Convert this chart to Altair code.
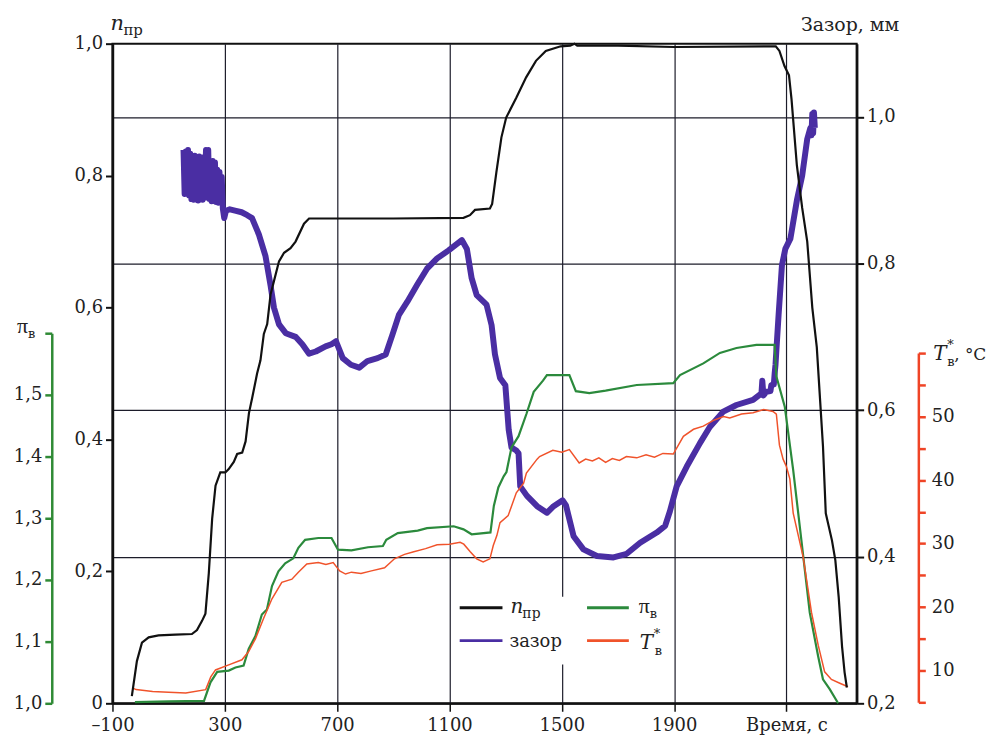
import altair as alt
import pandas as pd

# ---------------- data ----------------
n_t = [-31, -13, 5, 29, 64, 124, 183, 201, 219, 231, 243, 255, 267, 284, 302, 314, 332, 344, 362, 374,
       386, 398, 415, 427, 439, 451, 463, 475, 493, 511, 534, 552, 582, 600, 700, 900, 1150, 1173, 1191,
       1244, 1252, 1267, 1285, 1302, 1338, 1373, 1408, 1443, 1496, 1530, 1545, 1555, 1700, 1900, 2262,
       2275, 2293, 2309, 2318, 2337, 2356, 2374, 2392, 2408, 2419, 2430, 2440, 2462, 2474, 2486, 2498,
       2507, 2515]
n_v = [0.011, 0.064, 0.092, 0.100, 0.103, 0.104, 0.105, 0.111, 0.125, 0.136, 0.197, 0.28, 0.33, 0.35,
       0.35, 0.355, 0.366, 0.378, 0.38, 0.397, 0.44, 0.464, 0.50, 0.52, 0.56, 0.575, 0.62, 0.64, 0.67,
       0.683, 0.69, 0.70, 0.727, 0.735, 0.735, 0.735, 0.736, 0.74, 0.748, 0.75, 0.757, 0.805, 0.858, 0.888,
       0.918, 0.949, 0.974, 0.989, 0.996, 0.997, 1.0, 0.997, 0.997, 0.995, 0.996, 0.989, 0.966, 0.952,
       0.916, 0.816, 0.751, 0.70, 0.60, 0.54, 0.465, 0.39, 0.288, 0.247, 0.217, 0.161, 0.086, 0.047, 0.024]

gap_t = [153, 157, 161, 165, 169, 173, 177, 181, 185, 189, 193, 197, 201, 205, 209, 213, 217, 221, 225,
         229, 233, 237, 241, 245, 249, 253, 257, 261, 265, 269, 273, 277, 281, 285, 289, 293,
         298, 304, 318, 340, 360, 380, 397, 421, 445, 463, 475, 493, 517, 552, 576, 600, 624, 659, 680,
         696, 720, 749, 779, 808, 844, 873, 897, 920, 950, 985, 1020, 1056, 1097, 1144, 1162, 1179, 1197,
         1232, 1250, 1262, 1280, 1299, 1311, 1321, 1338, 1346, 1352, 1376, 1412, 1447, 1471, 1503, 1515,
         1524, 1542, 1577, 1625, 1684, 1731, 1779, 1838, 1868, 1885, 1909, 1945, 1992, 2027, 2075, 2122,
         2181, 2211, 2214, 2218, 2228, 2243, 2246, 2255, 2258, 2261, 2264, 2272, 2284, 2296, 2314, 2338,
         2356, 2374, 2385, 2389, 2392, 2395, 2398, 2401]
gap_v = [0.955, 0.895, 0.953, 0.898, 0.955, 0.893, 0.950, 0.888, 0.945, 0.887, 0.947, 0.889, 0.944,
         0.886, 0.946, 0.888, 0.944, 0.887, 0.945, 0.890, 0.955, 0.892, 0.955, 0.888, 0.940, 0.885,
         0.940, 0.886, 0.938, 0.884, 0.928, 0.883, 0.925, 0.884, 0.918, 0.875,
         0.862, 0.872, 0.874, 0.872, 0.870, 0.866, 0.862, 0.84, 0.81, 0.77, 0.74, 0.717, 0.705, 0.70,
         0.69, 0.677, 0.68, 0.687, 0.69, 0.694, 0.671, 0.662, 0.658, 0.667, 0.671, 0.676, 0.703, 0.73,
         0.748, 0.771, 0.793, 0.807, 0.818, 0.832, 0.82, 0.78, 0.757, 0.744, 0.716, 0.676, 0.644, 0.634,
         0.573, 0.549, 0.545, 0.541, 0.496, 0.483, 0.469, 0.46, 0.469, 0.477, 0.47, 0.456, 0.428, 0.41,
         0.401, 0.399, 0.404, 0.419, 0.433, 0.442, 0.462, 0.496, 0.523, 0.555, 0.577, 0.598, 0.607,
         0.614, 0.623, 0.64, 0.62, 0.625, 0.626, 0.634, 0.635, 0.65, 0.662, 0.681, 0.73, 0.798, 0.82,
         0.834, 0.888, 0.92, 0.97, 0.985, 0.975, 1.004, 0.978, 1.006, 0.985]

pi_t = [-20, 100, 226, 249, 273, 314, 338, 367, 385, 409, 432, 450, 468, 491, 515, 544, 562, 586, 633,
        680, 703, 751, 810, 863, 875, 916, 987, 1020, 1115, 1150, 1179, 1246, 1258, 1274, 1293, 1303,
        1321, 1346, 1374, 1400, 1433, 1447, 1527, 1550, 1598, 1656, 1767, 1897, 1921, 2004, 2063, 2122,
        2193, 2258, 2264, 2294, 2324, 2353, 2383, 2413, 2430, 2454, 2484]
pi_v = [1.002, 1.003, 1.004, 1.034, 1.051, 1.053, 1.058, 1.061, 1.088, 1.109, 1.144, 1.152, 1.19, 1.214,
        1.227, 1.235, 1.252, 1.265, 1.268, 1.268, 1.249, 1.248, 1.253, 1.255, 1.265, 1.276, 1.28, 1.284,
        1.287, 1.282, 1.274, 1.277, 1.32, 1.35, 1.368, 1.375, 1.415, 1.433, 1.469, 1.505, 1.523, 1.532,
        1.532, 1.506, 1.503, 1.507, 1.516, 1.519, 1.532, 1.551, 1.568, 1.576, 1.581, 1.581, 1.53, 1.481,
        1.378, 1.265, 1.147, 1.076, 1.039, 1.023, 1.0]

temp_t = [-25, -16, 43, 100, 161, 232, 250, 267, 314, 361, 385, 409, 438, 468, 503, 539, 562, 592, 633,
          660, 686, 709, 730, 751, 785, 822, 869, 904, 940, 973, 1015, 1056, 1100, 1138, 1151, 1174, 1197,
          1220, 1244, 1256, 1269, 1280, 1309, 1338, 1364, 1374, 1412, 1421, 1468, 1500, 1527, 1562, 1585,
          1609, 1632, 1656, 1680, 1705, 1730, 1767, 1800, 1830, 1860, 1897, 1933, 1969, 2004, 2040, 2076,
          2098, 2140, 2181, 2219, 2252, 2264, 2275, 2288, 2300, 2312, 2324, 2359, 2371, 2389, 2413, 2436,
          2460, 2490, 2519]
temp_v = [7.2, 7.0, 6.7, 6.6, 6.45, 7.0, 9.0, 10.1, 10.9, 11.7, 13.0, 15.0, 18.2, 21.3, 23.9, 24.4, 25.5,
          26.8, 27.0, 26.7, 27.0, 25.7, 25.2, 25.5, 25.3, 25.7, 26.2, 27.6, 28.3, 28.7, 29.2, 29.8, 29.9,
          30.2, 29.9, 28.7, 27.6, 27.1, 27.6, 29.7, 31.3, 33.3, 34.4, 38.0, 39.5, 41.1, 43.3, 43.7, 44.7,
          44.4, 44.8, 42.7, 43.3, 43.0, 43.5, 42.8, 43.4, 43.1, 43.7, 43.5, 44.0, 43.6, 44.2, 44.1, 46.9,
          48.0, 48.5, 49.4, 50.0, 49.8, 50.4, 50.6, 51.1, 50.8, 50.4, 45.5, 43.3, 42.1, 40.2, 34.8, 28.0,
          24.5, 19.2, 14.0, 9.8, 8.6, 8.0, 7.45]

x_ticks = [-100, 300, 700, 1100, 1500, 1900, 2300]
n_ticks = [0, 0.2, 0.4, 0.6, 0.8, 1.0]
gap_ticks = [0.2, 0.4, 0.6, 0.8, 1.0]
pi_ticks = [1.0, 1.1, 1.2, 1.3, 1.4, 1.5, 1.6]
temp_ticks = [5, 10, 15, 20, 25, 30, 35, 40, 45, 50, 55, 60]

# ---------------- styling ----------------
W, H = 748, 663
FONT = "DejaVu Serif"
GREEK = "Liberation Serif"
INK = "#222222"
BLACK = "#111111"
PURPLE = "#4a2ea3"
GREEN = "#2b8a3c"
RED = "#f0532b"
GREEN_AX = "#2f8a35"
RED_AX = "#ef4426"
LBL = dict(labelFont=FONT, labelFontSize=18, labelColor=INK, labelFlush=False, labelOverlap=False)

df_n = pd.DataFrame({"t": n_t, "v": n_v})
df_gap = pd.DataFrame({"t": gap_t, "v": gap_v})
df_pi = pd.DataFrame({"t": pi_t, "v": pi_v})
df_temp = pd.DataFrame({"t": temp_t, "v": temp_v})
dummy = pd.DataFrame({"k": [0]})

comma = "replace(format(datum.value, '.1f'), '.', ',')"

x_enc = alt.X(
    "t:Q",
    scale=alt.Scale(domain=[-100, 2550], nice=False, zero=False),
    axis=alt.Axis(
        values=x_ticks, title=None, grid=True, gridColor="#1c1c2a", gridWidth=1.2,
        domainColor=BLACK, domainWidth=2, tickColor=BLACK, tickWidth=1.5, tickSize=8,
        labelPadding=5,
        labelExpr="datum.value == 2300 ? 'Время, с' : (datum.value < 0 ? '–' + format(-datum.value, 'd') : format(datum.value, 'd'))",
        **LBL,
    ),
)

line_gap = alt.Chart(df_gap).mark_line(color=PURPLE, strokeWidth=6, strokeJoin="round").encode(
    x=x_enc,
    y=alt.Y("v:Q", scale=alt.Scale(domain=[0.2, 1.1], nice=False, zero=False),
            axis=alt.Axis(orient="right", values=gap_ticks, title=None, grid=True, gridColor="#1c1c2a",
                          gridWidth=1.2, domainColor=BLACK, domainWidth=2.5, tickColor=BLACK, tickWidth=2,
                          tickSize=7, labelPadding=3, labelExpr=comma, **LBL)),
)

line_pi = alt.Chart(df_pi).mark_line(color=GREEN, strokeWidth=2.2).encode(
    x=x_enc,
    y=alt.Y("v:Q", scale=alt.Scale(domain=[1.0, 1.6], range=[H, 291], nice=False, zero=False),
            axis=alt.Axis(orient="left", offset=61, values=pi_ticks, title=None, grid=False,
                          domainColor=GREEN_AX, domainWidth=2.5, tickColor=GREEN_AX, tickWidth=2.5,
                          tickSize=7, labelPadding=3,
                          labelExpr="datum.value > 1.55 ? '' : " + comma, **LBL)),
)

line_temp = alt.Chart(df_temp).mark_line(color=RED, strokeWidth=1.5).encode(
    x=x_enc,
    y=alt.Y("v:Q", scale=alt.Scale(domain=[5, 60], range=[662, 311], nice=False, zero=False),
            axis=alt.Axis(orient="right", offset=62, values=temp_ticks, title=None, grid=False,
                          domainColor=RED_AX, domainWidth=2.5, tickColor=RED_AX, tickWidth=2.5,
                          tickSize=7, labelPadding=6,
                          labelExpr="(datum.value % 10 == 0 && datum.value < 55) ? format(datum.value, 'd') : ''",
                          **LBL)),
)

line_n = alt.Chart(df_n).mark_line(color=BLACK, strokeWidth=2.2).encode(
    x=x_enc,
    y=alt.Y("v:Q", scale=alt.Scale(domain=[0, 1], nice=False, zero=False),
            axis=alt.Axis(orient="left", values=n_ticks, title=None, grid=False,
                          domainColor=BLACK, domainWidth=2.5, tickColor=BLACK, tickWidth=2,
                          tickSize=7, labelPadding=3,
                          labelExpr="datum.value == 0 ? '0' : " + comma, **LBL)),
)


def txt(s, x, y, size=18, style="normal", color=INK, align="left", font=FONT):
    return alt.Chart(dummy).mark_text(
        text=s, font=font, fontSize=size, fontStyle=style, color=color, align=align,
        baseline="alphabetic",
    ).encode(x=alt.value(x), y=alt.value(y))


def rule(x1, x2, y, color, w=3):
    return alt.Chart(dummy).mark_rule(color=color, strokeWidth=w).encode(
        x=alt.value(x1), x2=alt.value(x2), y=alt.value(y))


legend_bg = alt.Chart(dummy).mark_rect(fill="white").encode(
    x=alt.value(345), x2=alt.value(560), y=alt.value(556), y2=alt.value(624))

annotations = [
    legend_bg,
    rule(349, 392, 567, BLACK), rule(349, 392, 600, PURPLE),
    rule(477, 519, 567, GREEN), rule(477, 519, 600, RED),
    txt("n", 400, 572, 20, "italic"), txt("пр", 412, 577, 14),
    txt("зазор", 399, 606, 18),
    txt("π", 529, 572, 22, font=GREEK), txt("в", 540, 577, 13),
    txt("T", 530, 608, 20, "italic"), txt("*", 544, 597, 13), txt("в", 545, 614, 13),
    # axis titles
    txt("n", -2, -14, 21, "italic"), txt("пр", 11, -9, 15),
    txt("Зазор, мм", 692, -13, 19),
    txt("π", -96, 291, 22, font=GREEK), txt("в", -85, 296, 13),
    txt("T", 825, 318, 20, "italic"), txt("*", 839, 307, 13), txt("в", 839, 324, 13),
    txt(", °C", 846, 318, 17),
]

chart = alt.layer(line_gap, line_pi, line_temp, line_n, *annotations).resolve_scale(
    y="independent"
).resolve_axis(y="independent").properties(
    width=W, height=H,
    autosize=alt.AutoSizeParams(type="none"),
    padding={"left": 105, "top": 34, "right": 131, "bottom": 30},
    background="white",
).configure_view(stroke=BLACK, strokeWidth=2)

chart.save("out.html", embed_options={"renderer": "svg", "actions": False})
